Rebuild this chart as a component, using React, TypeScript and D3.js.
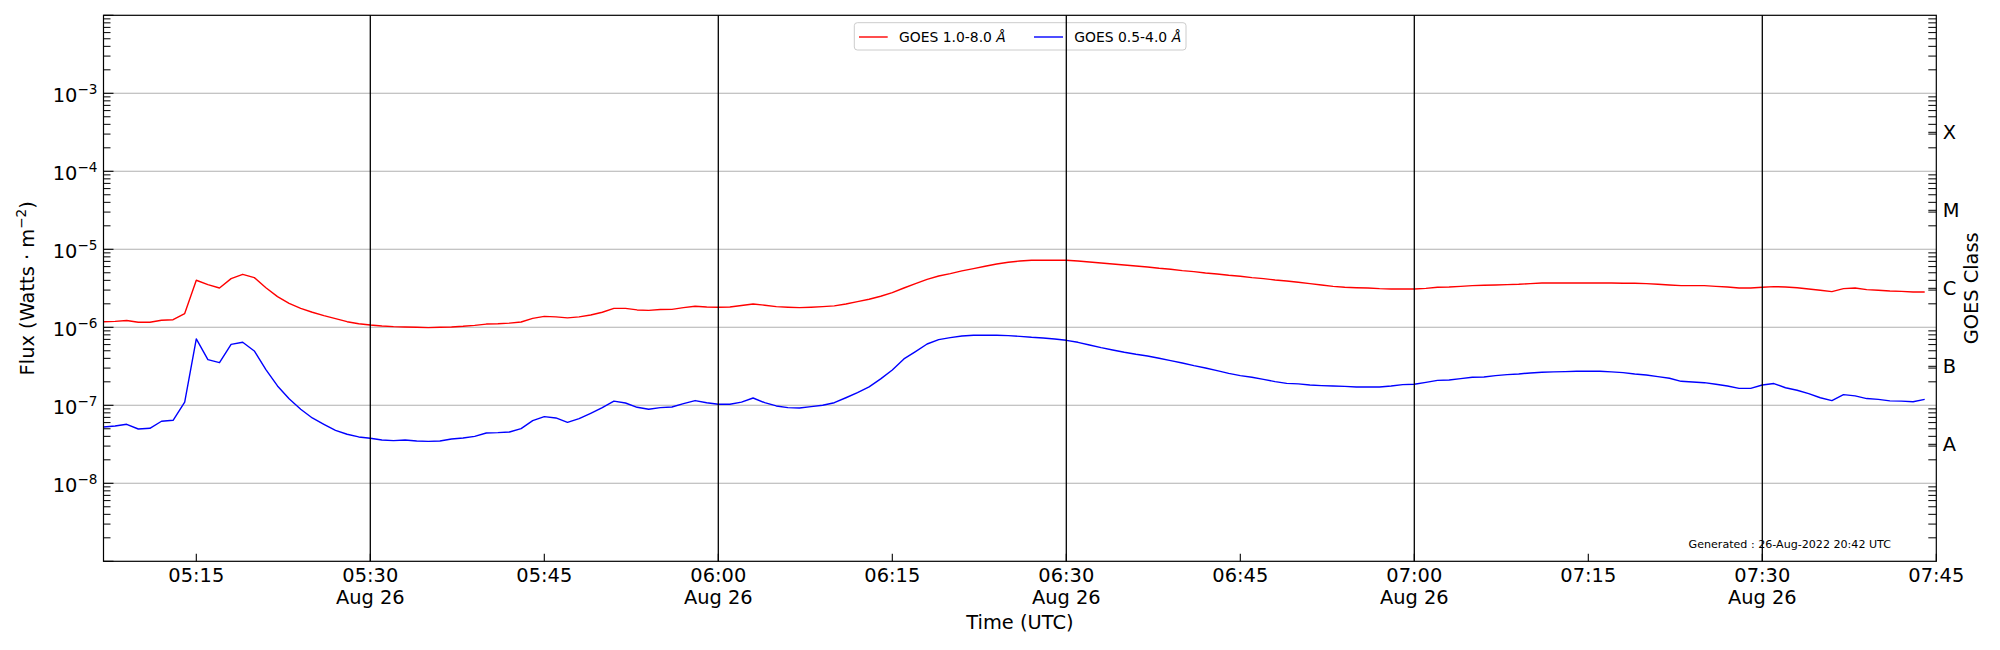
import React from "react";
import * as d3 from "d3";

// ---- data (1-minute GOES XRS fluxes, W m^-2), 26-Aug-2022 05:07 .. 07:44 UTC ----
const startTime = "2022-08-26T05:07:00Z";
const endTime = "2022-08-26T07:45:00Z";

const xrsLong = [
  1.18e-6, 1.19e-6, 1.22e-6, 1.16e-6, 1.16e-6, 1.23e-6, 1.25e-6, 1.5e-6, 4.01e-6, 3.52e-6,
  3.19e-6, 4.21e-6, 4.78e-6, 4.33e-6, 3.22e-6, 2.47e-6, 2.03e-6, 1.75e-6, 1.56e-6, 1.41e-6,
  1.29e-6, 1.18e-6, 1.11e-6, 1.07e-6, 1.04e-6, 1.02e-6, 1.01e-6, 1.0e-6, 0.99e-6, 1.0e-6,
  1.01e-6, 1.03e-6, 1.06e-6, 1.1e-6, 1.11e-6, 1.13e-6, 1.17e-6, 1.3e-6, 1.38e-6, 1.36e-6,
  1.32e-6, 1.36e-6, 1.44e-6, 1.56e-6, 1.75e-6, 1.75e-6, 1.67e-6, 1.65e-6, 1.69e-6, 1.7e-6,
  1.79e-6, 1.86e-6, 1.82e-6,
  1.81e-6, 1.82e-6, 1.9e-6, 1.99e-6, 1.92e-6, 1.84e-6, 1.81e-6, 1.79e-6, 1.81e-6, 1.84e-6,
  1.88e-6, 1.99e-6, 2.13e-6, 2.29e-6, 2.5e-6, 2.78e-6, 3.19e-6, 3.63e-6, 4.12e-6, 4.55e-6,
  4.88e-6, 5.28e-6, 5.65e-6, 6.06e-6, 6.49e-6, 6.81e-6, 7.09e-6, 7.23e-6, 7.23e-6, 7.23e-6,
  7.23e-6, 7.09e-6, 6.88e-6, 6.68e-6, 6.49e-6, 6.3e-6, 6.11e-6, 5.94e-6, 5.71e-6, 5.54e-6,
  5.33e-6, 5.17e-6, 4.97e-6, 4.83e-6, 4.64e-6, 4.51e-6, 4.33e-6, 4.21e-6, 4.04e-6, 3.93e-6,
  3.78e-6, 3.63e-6, 3.49e-6,
  3.35e-6, 3.26e-6, 3.22e-6, 3.19e-6, 3.13e-6, 3.1e-6, 3.1e-6, 3.1e-6,
  3.16e-6, 3.26e-6, 3.29e-6, 3.35e-6, 3.42e-6, 3.46e-6, 3.49e-6, 3.52e-6, 3.56e-6, 3.63e-6,
  3.7e-6, 3.7e-6, 3.7e-6, 3.7e-6, 3.7e-6, 3.7e-6, 3.7e-6, 3.67e-6, 3.67e-6, 3.63e-6,
  3.56e-6, 3.49e-6, 3.42e-6, 3.42e-6, 3.42e-6, 3.35e-6, 3.29e-6, 3.19e-6, 3.19e-6, 3.26e-6,
  3.32e-6, 3.29e-6, 3.22e-6, 3.1e-6, 2.98e-6, 2.87e-6, 3.13e-6, 3.19e-6, 3.04e-6, 2.98e-6,
  2.92e-6, 2.89e-6, 2.84e-6, 2.84e-6,
];

const xrsShort = [
  0.528e-7, 0.543e-7, 0.571e-7, 0.497e-7, 0.507e-7, 0.624e-7, 0.642e-7, 1.1e-7, 7.09e-7, 3.85e-7,
  3.52e-7, 6.05e-7, 6.42e-7, 4.97e-7, 2.87e-7, 1.77e-7, 1.21e-7, 0.889e-7, 0.688e-7, 0.571e-7,
  0.478e-7, 0.425e-7, 0.393e-7, 0.378e-7, 0.359e-7, 0.352e-7, 0.359e-7, 0.349e-7, 0.345e-7, 0.349e-7,
  0.37e-7, 0.381e-7, 0.4e-7, 0.442e-7, 0.446e-7, 0.455e-7, 0.502e-7, 0.636e-7, 0.716e-7, 0.688e-7,
  0.605e-7, 0.675e-7, 0.79e-7, 0.933e-7, 1.13e-7, 1.07e-7, 0.943e-7, 0.889e-7, 0.933e-7, 0.952e-7,
  1.05e-7, 1.15e-7, 1.08e-7,
  1.03e-7, 1.03e-7, 1.1e-7, 1.24e-7, 1.08e-7, 0.981e-7, 0.933e-7, 0.924e-7, 0.961e-7, 1.0e-7,
  1.08e-7, 1.25e-7, 1.45e-7, 1.72e-7, 2.18e-7, 2.84e-7, 3.93e-7, 4.88e-7, 6.11e-7, 6.95e-7,
  7.37e-7, 7.74e-7, 7.9e-7, 7.9e-7, 7.9e-7, 7.82e-7, 7.66e-7, 7.44e-7, 7.3e-7, 7.09e-7,
  6.81e-7, 6.42e-7, 5.94e-7, 5.49e-7, 5.12e-7, 4.78e-7, 4.51e-7, 4.29e-7, 4.01e-7, 3.74e-7,
  3.49e-7, 3.22e-7, 3.01e-7, 2.78e-7, 2.57e-7, 2.4e-7, 2.29e-7, 2.15e-7, 2.01e-7, 1.91e-7,
  1.88e-7, 1.82e-7, 1.79e-7,
  1.77e-7, 1.75e-7, 1.72e-7, 1.72e-7, 1.72e-7, 1.77e-7, 1.84e-7, 1.86e-7,
  1.97e-7, 2.09e-7, 2.11e-7, 2.2e-7, 2.29e-7, 2.31e-7, 2.4e-7, 2.47e-7, 2.52e-7, 2.6e-7,
  2.65e-7, 2.68e-7, 2.7e-7, 2.73e-7, 2.73e-7, 2.73e-7, 2.68e-7, 2.62e-7, 2.52e-7, 2.45e-7,
  2.33e-7, 2.22e-7, 2.03e-7, 1.99e-7, 1.95e-7, 1.86e-7, 1.77e-7, 1.65e-7, 1.65e-7, 1.82e-7,
  1.9e-7, 1.68e-7, 1.56e-7, 1.41e-7, 1.25e-7, 1.15e-7, 1.37e-7, 1.32e-7, 1.22e-7, 1.19e-7,
  1.14e-7, 1.13e-7, 1.11e-7, 1.19e-7,
];

const xTickLabels = ["05:15", "05:30", "05:45", "06:00", "06:15", "06:30", "06:45", "07:00", "07:15", "07:30", "07:45"];
const dateLabel = "Aug 26";
const vLineTimes = ["05:30", "06:00", "06:30", "07:00", "07:30"];
const yLabelExps = [-3, -4, -5, -6, -7, -8];
const goesClasses = ["A", "B", "C", "M", "X"];
const goesCenterExps = [-7.5, -6.5, -5.5, -4.5, -3.5];
const legendLabels = ["GOES 1.0-8.0 ", "GOES 0.5-4.0 "];
const seriesColors = ["#ff0000", "#0000ff"];
const generatedText = "Generated : 26-Aug-2022 20:42 UTC";

const FONT = "'DejaVu Sans', sans-serif";

function hm(s: string) {
  return new Date(`2022-08-26T${s}:00Z`);
}

export default function App() {
  const W = 2000, H = 650;
  const L = 103.5, R = 1936.3, T = 15.3, B = 561.3;
  const start = new Date(startTime);
  const x = d3.scaleUtc().domain([start, new Date(endTime)]).range([L, R]);
  const y = d3.scaleLog().domain([1e-9, 1e-2]).range([B, T]);
  const times = xrsLong.map((_, i) => d3.utcMinute.offset(start, i));

  const line = d3
    .line<number>()
    .x((_, i) => x(times[i]))
    .y((d) => y(d));

  const minorVals: number[] = [];
  for (let e = -9; e <= -3; e++) for (let k = 2; k <= 9; k++) minorVals.push(k * Math.pow(10, e));
  const majorVals = d3.range(-9, -1).map((e) => Math.pow(10, e));

  const tickFs = 19.4;
  const supFs = 13.6;

  return (
    <>
      <style>{`body{margin:0;}`}</style>
      <svg width={W} height={H} style={{ display: "block", background: "#fff" }} fontFamily={FONT}>
        <defs>
          <clipPath id="plotclip">
            <rect x={L} y={T} width={R - L} height={B - T} />
          </clipPath>
        </defs>
        <rect x={0} y={0} width={W} height={H} fill="#fff" />
        {/* horizontal grid */}
        {yLabelExps.map((e) => (
          <line key={"g" + e} x1={L} x2={R} y1={y(Math.pow(10, e))} y2={y(Math.pow(10, e))} stroke="#b0b0b0" strokeWidth={1.1} />
        ))}
        {/* data */}
        <g clipPath="url(#plotclip)">
          <path d={line(xrsLong) || ""} fill="none" stroke={seriesColors[0]} strokeWidth={1.4} strokeLinejoin="round" />
          <path d={line(xrsShort) || ""} fill="none" stroke={seriesColors[1]} strokeWidth={1.4} strokeLinejoin="round" />
        </g>
        {/* legend */}
        <g>
          <rect x={854.3} y={22.7} width={331.7} height={27.3} rx={3} fill="#fff" fillOpacity={0.8} stroke="#cccccc" strokeWidth={1} />
          <line x1={859} x2={887.7} y1={37} y2={37} stroke={seriesColors[0]} strokeWidth={1.4} />
          <text x={899} y={42} fontSize={13.9} fill="#000">
            {legendLabels[0]}
            <tspan fontStyle="italic">Å</tspan>
          </text>
          <line x1={1034} x2={1063} y1={37} y2={37} stroke={seriesColors[1]} strokeWidth={1.4} />
          <text x={1074.3} y={42} fontSize={13.9} fill="#000">
            {legendLabels[1]}
            <tspan fontStyle="italic">Å</tspan>
          </text>
        </g>
        {/* vertical black lines */}
        {vLineTimes.map((t) => (
          <line key={"v" + t} x1={x(hm(t))} x2={x(hm(t))} y1={T} y2={B} stroke="#000" strokeWidth={1.3} />
        ))}
        {/* generated text */}
        <text x={1891} y={548} fontSize={11.1} textAnchor="end" fill="#000">
          {generatedText}
        </text>
        {/* left ticks */}
        {majorVals.map((v, i) => (
          <line key={"lM" + i} x1={L} x2={L + 10} y1={y(v)} y2={y(v)} stroke="#000" strokeWidth={1.1} />
        ))}
        {minorVals.map((v, i) => (
          <line key={"lm" + i} x1={L} x2={L + 7} y1={y(v)} y2={y(v)} stroke="#000" strokeWidth={1} />
        ))}
        {/* right ticks */}
        {minorVals.map((v, i) => (
          <line key={"rm" + i} x1={R} x2={R - 8} y1={y(v)} y2={y(v)} stroke="#000" strokeWidth={1} />
        ))}
        {goesCenterExps.map((e, i) => (
          <line key={"rM" + i} x1={R} x2={R - 8} y1={y(Math.pow(10, e))} y2={y(Math.pow(10, e))} stroke="#000" strokeWidth={1} />
        ))}
        {/* bottom ticks */}
        {xTickLabels.map((t) => (
          <line key={"bt" + t} x1={x(hm(t))} x2={x(hm(t))} y1={B} y2={B - 7.5} stroke="#000" strokeWidth={1.1} />
        ))}
        {/* frame */}
        <rect x={L} y={T} width={R - L} height={B - T} fill="none" stroke="#000" strokeWidth={1.2} />
        {/* y tick labels */}
        {yLabelExps.map((e) => (
          <text key={"yl" + e} x={97.5} y={y(Math.pow(10, e)) + 9} fontSize={tickFs} textAnchor="end" fill="#000">
            10
            <tspan dy={-8} fontSize={supFs}>
              {"\u2212" + Math.abs(e)}
            </tspan>
          </text>
        ))}
        {/* GOES class labels */}
        {goesClasses.map((c, i) => (
          <text key={"c" + c} x={1942.7} y={y(Math.pow(10, goesCenterExps[i])) + 7} fontSize={tickFs} fill="#000">
            {c}
          </text>
        ))}
        {/* x tick labels */}
        {xTickLabels.map((t) => {
          const d = hm(t);
          const showDate = d.getUTCMinutes() % 30 === 0 && t !== "07:45";
          return (
            <g key={"xl" + t}>
              <text x={x(d)} y={582.3} fontSize={tickFs} textAnchor="middle" fill="#000">
                {t}
              </text>
              {showDate && (
                <text x={x(d)} y={604.3} fontSize={tickFs} textAnchor="middle" fill="#000">
                  {dateLabel}
                </text>
              )}
            </g>
          );
        })}
        {/* axis titles */}
        <text x={(L + R) / 2} y={629.2} fontSize={tickFs} textAnchor="middle" fill="#000">
          Time (UTC)
        </text>
        <text transform={`translate(34.3,${(T + B) / 2}) rotate(-90)`} fontSize={tickFs} textAnchor="middle" fill="#000">
          {"Flux (Watts \u00b7 m"}
          <tspan dy={-8} fontSize={supFs}>
            {"\u22122"}
          </tspan>
          <tspan dy={8}>)</tspan>
        </text>
        <text transform={`translate(1977.5,${(T + B) / 2}) rotate(-90)`} fontSize={tickFs} textAnchor="middle" fill="#000">
          GOES Class
        </text>
      </svg>
    </>
  );
}
